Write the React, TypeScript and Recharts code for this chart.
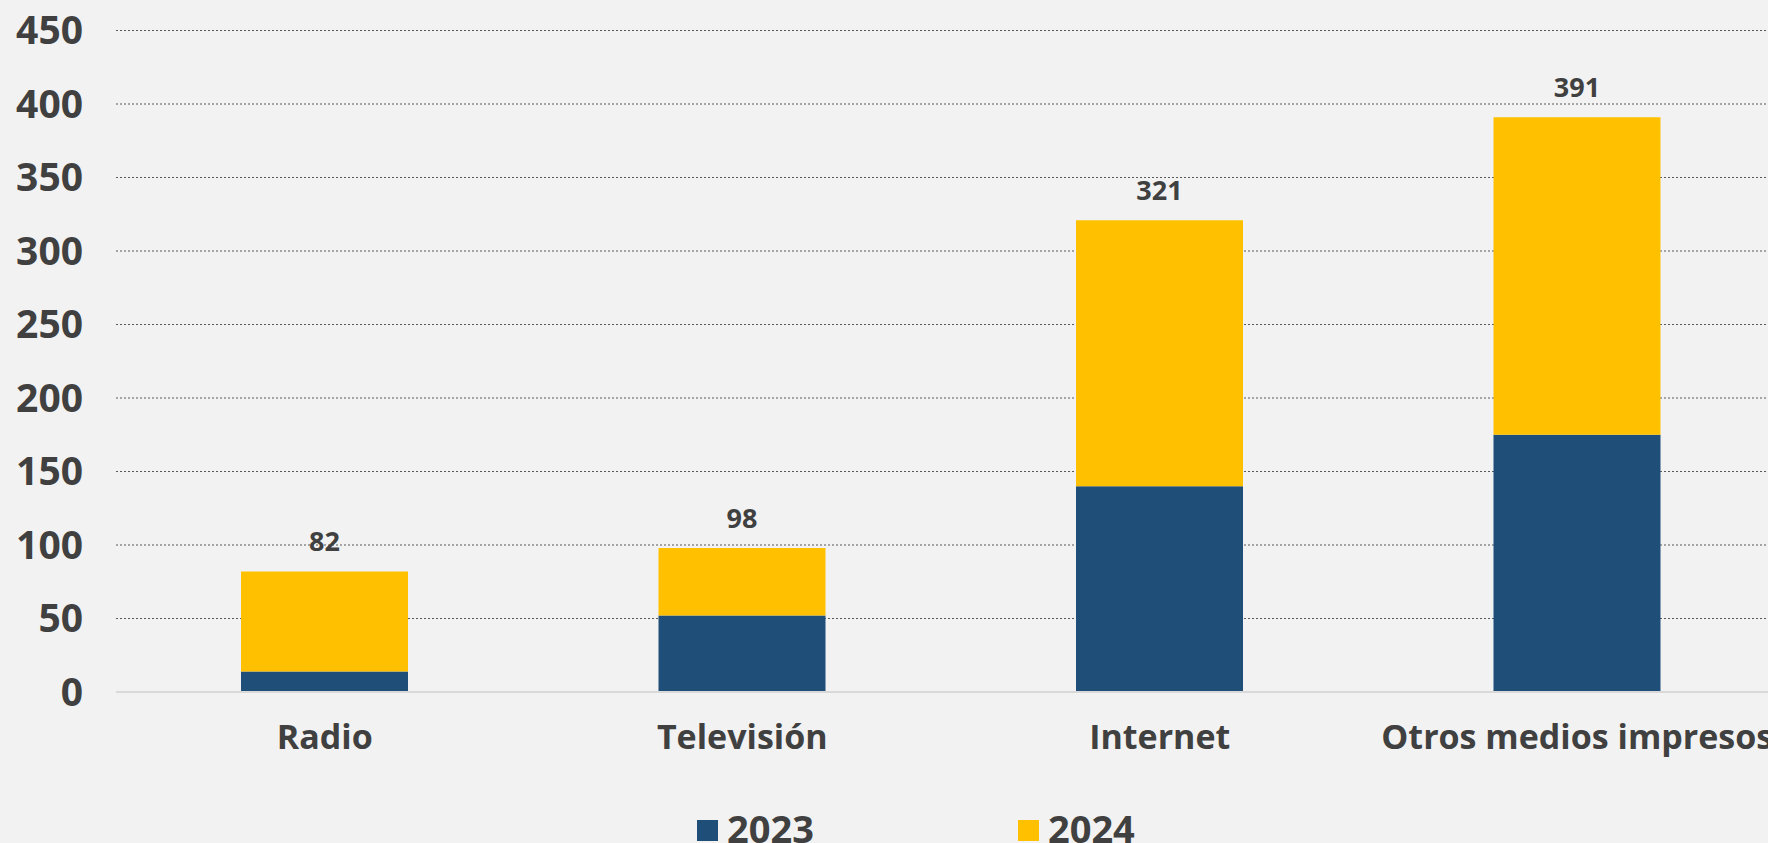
import React from "react";
import { BarChart, Bar, XAxis, YAxis, CartesianGrid, Legend, LabelList } from "recharts";

const categories = ["Radio", "Televisión", "Internet", "Otros medios impresos"];
const values2023 = [14, 52, 140, 175];
const values2024 = [68, 46, 181, 216];
const yTicks = [0, 50, 100, 150, 200, 250, 300, 350, 400, 450];

const data = categories.map((name, i) => ({
  name,
  y2023: values2023[i],
  y2024: values2024[i],
  total: values2023[i] + values2024[i],
}));

const FONT = "'Open Sans', 'Noto Sans', sans-serif";
const TEXT = "#404040";

const LegendContent = (props: any) => {
  const payload = props.payload || [];
  return (
    <div
      style={{
        display: "flex",
        alignItems: "flex-start",
        height: 40,
        fontFamily: FONT,
        fontWeight: 700,
        fontSize: 38,
        color: TEXT,
        lineHeight: 1,
        whiteSpace: "nowrap",
      }}
    >
      {payload.map((p: any, i: number) => (
        <div key={i} style={{ display: "flex", alignItems: "flex-start", marginRight: i === 0 ? 204 : 0 }}>
          <span
            style={{
              display: "inline-block",
              width: 21,
              height: 21,
              background: p.color,
              marginTop: 11,
              marginRight: 9,
            }}
          />
          <span>{p.value}</span>
        </div>
      ))}
    </div>
  );
};

export default function App() {
  return (
    <div
      style={{
        position: "absolute",
        left: 0,
        top: 0,
        width: 1768,
        height: 843,
        overflow: "hidden",
        background: "#f2f2f2",
      }}
    >
      <BarChart
        width={1786}
        height={842}
        data={data}
        margin={{ top: 30.5, right: 0, left: 0, bottom: 10 }}
        barSize={167}
      >
        <CartesianGrid vertical={false} stroke="#595959" strokeDasharray="2 2" strokeWidth={1.2} />
        <XAxis
          dataKey="name"
          height={100}
          tickLine={false}
          tickSize={0}
          tickMargin={33}
          axisLine={{ stroke: "#d9d9d9", strokeWidth: 2 }}
          tick={{ fill: TEXT, fontFamily: FONT, fontWeight: 700, fontSize: 34 }}
          interval={0}
        />
        <YAxis
          width={116}
          domain={[0, 450]}
          ticks={yTicks}
          tickLine={false}
          axisLine={false}
          tickSize={0}
          tickMargin={33}
          tick={{ fill: TEXT, fontFamily: FONT, fontWeight: 700, fontSize: 39 }}
          interval={0}
        />
        <Legend
          content={<LegendContent />}
          wrapperStyle={{ position: "absolute", left: 697, top: 809, width: 700, height: 40 }}
        />
        <Bar dataKey="y2023" name="2023" stackId="a" fill="#1f4e79" isAnimationActive={false} />
        <Bar dataKey="y2024" name="2024" stackId="a" fill="#ffc000" isAnimationActive={false}>
          <LabelList
            dataKey="total"
            position="top"
            offset={20}
            fill={TEXT}
            fontFamily={FONT}
            fontWeight={700}
            fontSize={27}
          />
        </Bar>
      </BarChart>
    </div>
  );
}
